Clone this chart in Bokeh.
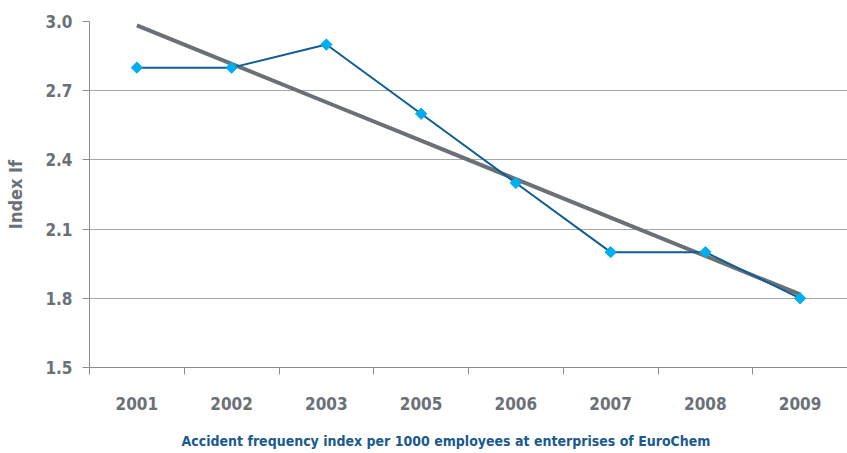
import numpy as np
from bokeh.plotting import figure
from bokeh.models import Range1d, FixedTicker, Title, ColumnDataSource
from bokeh.embed import file_html
from bokeh.resources import INLINE

years = ["2001", "2002", "2003", "2005", "2006", "2007", "2008", "2009"]
index_if = [2.8, 2.8, 2.9, 2.6, 2.3, 2.0, 2.0, 1.8]
y_ticks = [1.5, 1.8, 2.1, 2.4, 2.7, 3.0]
y_label = "Index If"
caption = "Accident frequency index per 1000 employees at enterprises of EuroChem"

FONT = "DejaVu Sans Condensed, Roboto Condensed, Liberation Sans Narrow, Roboto, sans-serif"
GREY = "#6b7077"

n = len(years)
xs = np.arange(n) + 0.5
slope, icpt = np.polyfit(np.arange(n), index_if, 1)
trend = icpt + slope * np.arange(n)

p = figure(width=847, height=453, output_backend="svg", toolbar_location=None,
           x_range=Range1d(0, n), y_range=Range1d(1.5, 3.0),
           min_border_left=89, min_border_right=0, min_border_top=21, min_border_bottom=85)
p.outline_line_color = None
p.background_fill_color = "white"

src = ColumnDataSource(dict(x=xs, y=index_if, t=trend))
p.line("x", "t", source=src, line_color=GREY, line_width=4)
p.line("x", "y", source=src, line_color="#0f5d93", line_width=2)
p.scatter("x", "y", source=src, marker="square", angle=np.pi / 4, size=8,
          fill_color="#00aeef", line_color="#00aeef")

# y axis
p.yaxis.ticker = FixedTicker(ticks=y_ticks)
p.yaxis.major_label_overrides = {t: f"{t:.1f}" for t in y_ticks}
p.yaxis.minor_tick_line_color = None
p.yaxis.major_tick_out = 7
p.yaxis.major_tick_in = 0
p.yaxis.major_tick_line_color = "#8a8e93"
p.yaxis.axis_line_color = "#8a8e93"
p.yaxis.major_label_text_font = FONT
p.yaxis.major_label_text_font_style = "bold"
p.yaxis.major_label_text_font_size = "17px"
p.yaxis.major_label_text_color = GREY
p.yaxis.major_label_standoff = 10
p.yaxis.axis_label = y_label
p.yaxis.axis_label_text_font = FONT
p.yaxis.axis_label_text_font_style = "bold"
p.yaxis.axis_label_text_font_size = "18px"
p.yaxis.axis_label_text_color = GREY
p.yaxis.axis_label_standoff = 16

# x axis
p.xaxis.ticker = FixedTicker(ticks=list(xs), minor_ticks=list(range(n + 1)))
p.xaxis.major_label_overrides = {float(x): y for x, y in zip(xs, years)}
p.xaxis.major_tick_line_color = None
p.xaxis.minor_tick_out = 7
p.xaxis.minor_tick_in = 0
p.xaxis.minor_tick_line_color = "#8a8e93"
p.xaxis.axis_line_color = "#8a8e93"
p.xaxis.major_label_text_font = FONT
p.xaxis.major_label_text_font_style = "bold"
p.xaxis.major_label_text_font_size = "17px"
p.xaxis.major_label_text_color = GREY
p.xaxis.major_label_standoff = 22
p.xaxis.axis_label = " "
p.xaxis.axis_label_text_font_size = "6px"
p.xaxis.axis_label_standoff = 4

p.xgrid.grid_line_color = None
p.ygrid.ticker = FixedTicker(ticks=y_ticks)
p.ygrid.grid_line_color = "#a3a7ab"
p.ygrid.grid_line_width = 1

t = Title(text=caption, align="left", offset=92, text_font=FONT,
          text_font_style="bold", text_font_size="14px", text_color="#1a5a8c")
p.add_layout(t, "below")

open("out.html", "w").write(file_html(p, INLINE))
